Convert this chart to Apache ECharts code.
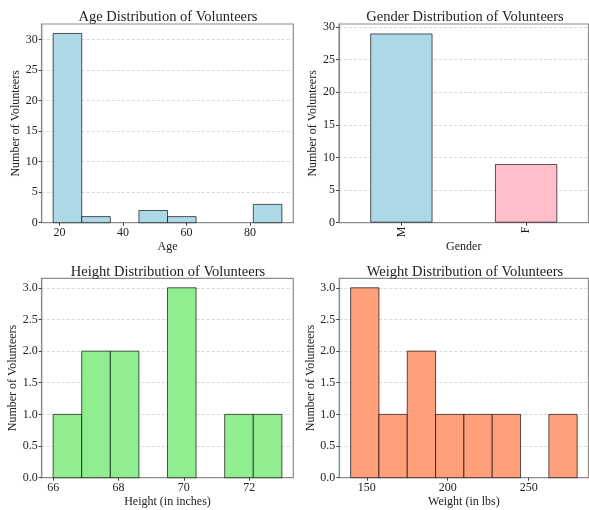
<!DOCTYPE html>
<html>
<head>
<meta charset="utf-8">
<script src="https://cdn.jsdelivr.net/npm/echarts@6/dist/echarts.min.js"></script>
<style>html,body{margin:0;padding:0;background:#fff;}#c{width:589px;height:510px;}</style>
</head>
<body>
<div id="c"></div>
<script>
// ---- data ----
const ageEdges = [18, 27, 36, 45, 54, 63, 72, 81, 90];
const ageCounts = [31, 1, 0, 2, 1, 0, 0, 3];
const ageTicks = [20, 40, 60, 80];

const genderCats = ['M', 'F'];
const genderCounts = [29, 9];

const heightEdges = [66, 66.875, 67.75, 68.625, 69.5, 70.375, 71.25, 72.125, 73];
const heightCounts = [1, 2, 2, 0, 3, 0, 1, 1];
const heightTicks = [66, 68, 70, 72];

const weightEdges = [140, 157.5, 175, 192.5, 210, 227.5, 245, 262.5, 280];
const weightCounts = [3, 1, 2, 1, 1, 1, 0, 1];
const weightTicks = [150, 200, 250];

const countTicks30 = [0, 5, 10, 15, 20, 25, 30];
const countTicks3 = [0, 0.5, 1, 1.5, 2, 2.5, 3];

// ---- helpers ----
const FONT = '"Liberation Serif", "Times New Roman", serif';
const TXT = '#222';
const SPINE = { show: true, onZero: false, lineStyle: { color: '#8c8c8c', width: 1.2 } };
function histData(edges, counts) {
  return counts.map((c, i) => [edges[i], edges[i + 1], c]);
}
function histRender(color) {
  return function (params, api) {
    const x0 = api.value(0), x1 = api.value(1), c = api.value(2);
    if (!c) return null;
    const p0 = api.coord([x0, c]);
    const p1 = api.coord([x1, 0]);
    return {
      type: 'rect',
      shape: { x: p0[0], y: p0[1], width: p1[0] - p0[0], height: p1[1] - p0[1] },
      style: { fill: color, stroke: 'rgba(0,0,0,0.65)', lineWidth: 1 }
    };
  };
}
function xValAxis(idx, min, max, ticks, name) {
  return {
    type: 'value', gridIndex: idx, min: min, max: max,
    name: name, nameLocation: 'middle', nameGap: 18,
    nameTextStyle: { fontFamily: FONT, fontSize: 12, color: TXT },
    axisLine: SPINE,
    axisTick: { show: true, length: 3, customValues: ticks, lineStyle: { color: '#444' } },
    axisLabel: { customValues: ticks, fontFamily: FONT, fontSize: 12, color: TXT, margin: 4 },
    splitLine: { show: false }
  };
}
function yValAxis(idx, max, interval, ticks, fmt) {
  return {
    type: 'value', gridIndex: idx, min: 0, max: max, interval: interval,
    name: 'Number of Volunteers', nameLocation: 'middle', nameGap: 17,
    nameTextStyle: { fontFamily: FONT, fontSize: 12, color: TXT },
    axisLine: SPINE,
    axisTick: { show: true, length: 3, customValues: ticks, lineStyle: { color: '#444' } },
    axisLabel: { customValues: ticks, fontFamily: FONT, fontSize: 12, color: TXT, margin: 4,
      formatter: fmt },
    splitLine: { show: true, lineStyle: { color: '#d0d0d0', type: [3, 2], width: 0.8 } }
  };
}
const gridBase = { show: true, borderColor: '#8c8c8c', borderWidth: 1.2, backgroundColor: 'transparent', containLabel: false };
function titleAt(text, cx, top) {
  return { text: text, left: cx, top: top, textAlign: 'center',
    textStyle: { fontFamily: FONT, fontSize: 14.5, fontWeight: 'normal', color: TXT } };
}

const option = {
  animation: false,
  backgroundColor: '#fff',
  title: [
    titleAt('Age Distribution of Volunteers', 163, 5),
    titleAt('Gender Distribution of Volunteers', 460, 5),
    titleAt('Height Distribution of Volunteers', 163, 260),
    titleAt('Weight Distribution of Volunteers', 460, 260)
  ],
  grid: [
    Object.assign({ left: 41.7, top: 24, width: 251.6, height: 198.7 }, gridBase),
    Object.assign({ left: 339, top: 24, width: 249.5, height: 198.7 }, gridBase),
    Object.assign({ left: 41.7, top: 278.3, width: 251.6, height: 199.4 }, gridBase),
    Object.assign({ left: 339.3, top: 278.3, width: 249.2, height: 199.4 }, gridBase)
  ],
  xAxis: [
    xValAxis(0, 14.4, 93.6, ageTicks, 'Age'),
    {
      type: 'category', gridIndex: 1, data: genderCats,
      name: 'Gender', nameLocation: 'middle', nameGap: 18,
      nameTextStyle: { fontFamily: FONT, fontSize: 12, color: TXT },
      axisLine: SPINE,
      axisTick: { show: true, length: 3, alignWithLabel: true, lineStyle: { color: '#444' } },
      axisLabel: { rotate: 90, fontFamily: FONT, fontSize: 12, color: TXT, margin: 4 },
      splitLine: { show: false }
    },
    xValAxis(2, 65.65, 73.35, heightTicks, 'Height (in inches)'),
    xValAxis(3, 133, 287, weightTicks, 'Weight (in lbs)')
  ],
  yAxis: [
    yValAxis(0, 32.55, 5, countTicks30, v => String(v)),
    yValAxis(1, 30.45, 5, countTicks30, v => String(v)),
    yValAxis(2, 3.15, 0.5, countTicks3, v => v.toFixed(1)),
    yValAxis(3, 3.15, 0.5, countTicks3, v => v.toFixed(1))
  ],
  series: [
    { type: 'custom', xAxisIndex: 0, yAxisIndex: 0, data: histData(ageEdges, ageCounts),
      encode: { x: [0, 1], y: 2 }, renderItem: histRender('#ADD8E6') },
    { type: 'bar', xAxisIndex: 1, yAxisIndex: 1, barWidth: '50%',
      data: genderCounts.map((v, i) => ({ value: v, itemStyle: { color: i === 0 ? '#ADD8E6' : '#FFC0CB' } })),
      itemStyle: { borderColor: 'rgba(0,0,0,0.65)', borderWidth: 1 } },
    { type: 'custom', xAxisIndex: 2, yAxisIndex: 2, data: histData(heightEdges, heightCounts),
      encode: { x: [0, 1], y: 2 }, renderItem: histRender('#90EE90') },
    { type: 'custom', xAxisIndex: 3, yAxisIndex: 3, data: histData(weightEdges, weightCounts),
      encode: { x: [0, 1], y: 2 }, renderItem: histRender('#FFA07A') }
  ]
};
const chart = echarts.init(document.getElementById('c'), null, { renderer: 'canvas' });
chart.setOption(option);
</script>
</body>
</html>
